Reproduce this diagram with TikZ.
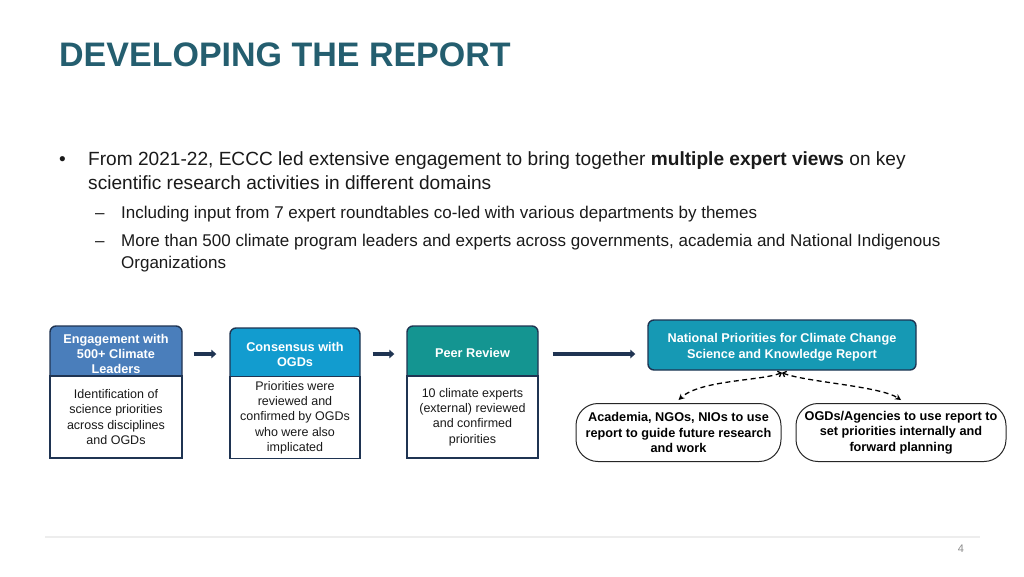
\documentclass[tikz,border=0pt]{standalone}
\usepackage{fontspec}
\setmainfont{Liberation Sans}
\usetikzlibrary{arrows.meta}
\definecolor{titlec}{HTML}{245E6F}
\definecolor{hA}{HTML}{4A7EBB}
\definecolor{hB}{HTML}{129CCF}
\definecolor{hC}{HTML}{149591}
\definecolor{repc}{HTML}{1699B4}
\definecolor{navy}{HTML}{1F3452}
\definecolor{txt}{HTML}{1A1A1A}
\definecolor{pgc}{HTML}{8C8C8C}
\definecolor{rulec}{HTML}{EDEDED}
\begin{document}
\begin{tikzpicture}[x=1pt,y=-1pt,
  hdrbox/.style={draw=navy, line width=1.4pt, rounded corners=6pt, minimum width=#1, minimum height=58, inner sep=0},
  hdrtext/.style={text=white, font=\bfseries\fontsize{12.7}{15}\selectfont, align=center, inner sep=0},
  bodybox/.style={draw=navy, line width=1.4pt, fill=white, minimum width=#1, minimum height=82, inner sep=0, align=center, text=txt, font=\fontsize{12.5}{15.3}\selectfont},
  repbox/.style={draw=navy, line width=1.4pt, fill=repc, rounded corners=6pt, minimum width=268, minimum height=50, inner sep=0, align=center, text=white, font=\bfseries\fontsize{12.7}{16}\selectfont},
  ovalbox/.style={draw=black!85, line width=1pt, fill=white, rounded corners=22pt, minimum width=#1, minimum height=58, inner sep=0, align=center, text=black, font=\bfseries\fontsize{12.7}{15.5}\selectfont},
  flowarrow/.style={draw=navy, line width=4pt, -{Triangle[length=5pt,width=8.5pt]}},
  dasharrow/.style={draw=black, line width=1.3pt, dash pattern=on 5pt off 3.5pt, {Straight Barb[length=3pt,width=6pt]}-{Stealth[length=6pt,width=6pt]}},
  bodytext/.style={anchor=base west, inner sep=0, text=txt, font=\fontsize{19.1}{22}\selectfont},
  subtext/.style={anchor=base west, inner sep=0, text=txt, font=\fontsize{17}{20}\selectfont}
]
\useasboundingbox (0,0) rectangle (1024,576);
\fill[white] (0,0) rectangle (1024,576);

% title
\node[anchor=base west, inner sep=0, text=titlec, font=\bfseries\fontsize{34}{34}\selectfont] (title) at (59,66) {DEVELOPING THE REPORT};

% bullets
\node[bodytext] (bul1) at (59,165.5) {•};
\node[bodytext] (l1) at (88,165.5) {From 2021-22, ECCC led extensive engagement to bring together \textbf{multiple expert views} on key};
\node[bodytext] (l2) at (88,189) {scientific research activities in different domains};
\node[subtext] (d1) at (95,218) {–};
\node[subtext] (s1) at (121,218) {Including input from 7 expert roundtables co-led with various departments by themes};
\node[subtext] (d2) at (95,246) {–};
\node[subtext] (s2) at (121,246) {More than 500 climate program leaders and experts across governments, academia and National Indigenous};
\node[subtext] (s3) at (121,268.5) {Organizations};

% box 1
\node[hdrbox=132, fill=hA] (h1) at (116,355) {};
\node[bodybox=132] (b1) at (116,417) {Identification of\\science priorities\\across disciplines\\and OGDs};
\node[hdrtext] (t1) at (116,353.5) {Engagement with\\500+ Climate\\Leaders};

% box 2
\node[hdrbox=130, fill=hB, minimum height=56] (h2) at (295,356) {};
\node[bodybox=130] (b2) at (295,417.5) {Priorities were\\reviewed and\\confirmed by OGDs\\who were also\\implicated};
\node[hdrtext] (t2) at (295,354) {Consensus with\\OGDs};

% box 3
\node[hdrbox=131, fill=hC] (h3) at (472.5,355) {};
\node[bodybox=131] (b3) at (472.5,417) {10 climate experts\\(external) reviewed\\and confirmed\\priorities};
\node[hdrtext] (t3) at (472.5,353) {Peer Review};

% report
\node[repbox] (rep) at (782,345) {};
\node[inner sep=0, align=center, text=white, font=\bfseries\fontsize{12.7}{16}\selectfont] (rept) at (782,347) {National Priorities for Climate Change\\Science and Knowledge Report};

% ovals
\node[ovalbox=205] (o1) at (678.5,432.5) {Academia, NGOs, NIOs to use\\report to guide future research\\and work};
\node[ovalbox=210] (o2) at (901,432.5) {OGDs/Agencies to use report to\\set priorities internally and\\forward planning};

% arrows
\draw[flowarrow, shorten <=11pt, shorten >=13pt] ([yshift=1pt]h1.east) -- ([yshift=1pt]h1.east -| h2.west);
\draw[flowarrow, shorten <=12pt, shorten >=12pt] ([yshift=2pt]h2.east) -- ([yshift=2pt]h2.east -| h3.west);
\draw[flowarrow, shorten <=14pt, shorten >=12pt] ([yshift=1pt]h3.east) -- ([yshift=1pt]h3.east -| rep.west);

\draw[dasharrow] ([yshift=-2pt]rep.south) .. controls (760,381) and (700,380) .. ([yshift=3pt]o1.north);
\draw[dasharrow] ([yshift=-2pt]rep.south) .. controls (805,382) and (880,386) .. ([yshift=3pt]o2.north);

% footer
\draw[rulec, line width=1.5pt] (45,537) coordinate (rl) -- (980,537) coordinate (rr);
\node[inner sep=0, text=pgc, font=\fontsize{11}{11}\selectfont] (pg) at (961,549) {4};
\end{tikzpicture}
\end{document}
